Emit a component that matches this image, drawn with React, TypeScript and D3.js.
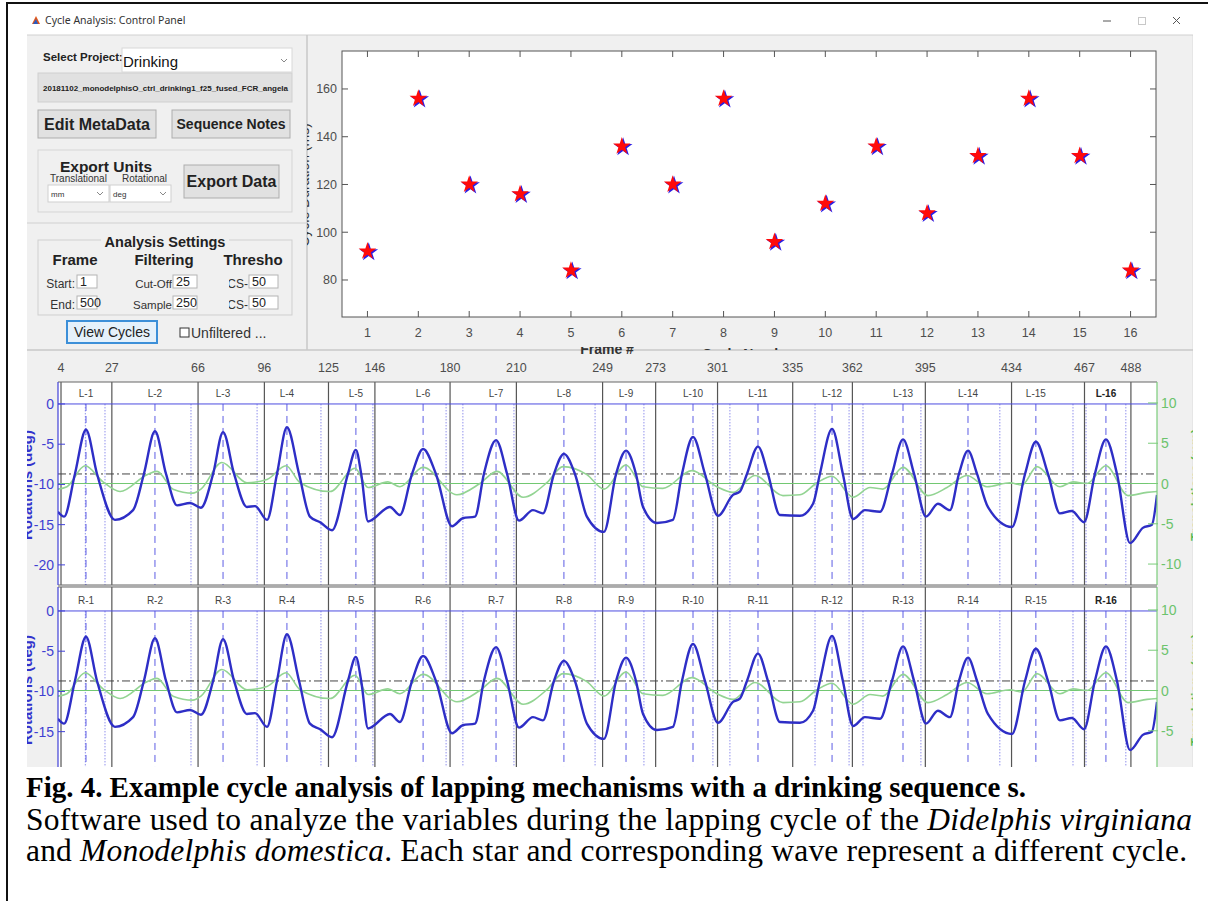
import React from "react";
import * as d3 from "d3";

const SANS = '"Liberation Sans", Arial, Helvetica, sans-serif';
const UI = '"Noto Sans", "Liberation Sans", Arial, sans-serif';
const SERIF = '"Liberation Serif", "Times New Roman", serif';

// ---------- scatter (cycle duration per cycle) ----------
const CYCLE_NUMBERS = [1, 2, 3, 4, 5, 6, 7, 8, 9, 10, 11, 12, 13, 14, 15, 16];
const CYCLE_VALUES = [92, 156, 120, 116, 84, 136, 120, 156, 96, 112, 136, 108, 132, 156, 132, 84];
const SCATTER_Y_TICKS = [80, 100, 120, 140, 160];

// ---------- cycle traces ----------
const FRAME_TICKS = [4, 27, 66, 96, 125, 146, 180, 210, 249, 273, 301, 335, 362, 395, 434, 467, 488];
const PEAK_FRAMES = [15.3, 46.5, 77.3, 106.2, 137.4, 167.8, 200.8, 231.5, 259.6, 289.9, 319.3, 352.8, 384.9, 414.3, 445.0, 476.7];
const DOTTED_FRAMES = [15.0, 23.9, 62.8, 92.7, 121.6, 145.1, 178.2, 185.8, 208.9, 245.6, 267.7, 298.9, 306.6, 345.1, 360.5, 366.8, 393.0, 428.7, 461.8, 467.7, 485.7];
const LEFT_TICKS = [0, -5, -10, -15, -20];
const RIGHT_TICKS = [10, 5, 0, -5, -10];
const THRESHOLD_LEFT = -8.7;
const BASELINE_RIGHT = 0;

const BLUE_FRAMES = [
  2.6, 5.4, 10.3, 15.3, 20.3, 28.4, 36.6, 41.5, 46.5, 51.5, 56.5, 62.4, 67.3, 72.8, 77.3, 82.3,
  88.1, 91.8, 97.2, 101.7, 106.2, 111.7, 116.6, 121.2, 126.6, 133.8, 137.4, 139.8, 142.9, 152.8,
  157.3, 162.8, 167.8, 173.6, 180.9, 185.8, 191.3, 195.3, 200.8, 205.8, 211.2, 217.5, 222.0,
  227.0, 231.5, 236.5, 241.9, 249.6, 255.1, 259.6, 264.1, 267.3, 273.6, 280.8, 284.9, 289.9,
  295.3, 301.2, 308.0, 311.1, 314.3, 319.3, 323.8, 329.2, 338.3, 344.2, 347.3, 352.8, 357.7,
  362.3, 367.7, 374.5, 379.9, 384.9, 389.9, 395.3, 400.7, 406.1, 410.2, 414.3, 418.4, 423.3,
  434.2, 440.1, 445.0, 450.5, 455.9, 461.3, 466.8, 471.7, 476.7, 481.7, 487.6, 493.4, 497.5, 499.8,
];
const BLUE_VALUES = [
  -13.4, -14.0, -8.7, -3.2, -8.7, -14.4, -13.2, -8.7, -3.4, -8.7, -12.6, -12.3, -12.9, -8.7, -3.5, -8.7,
  -12.8, -12.7, -14.4, -8.7, -2.9, -8.7, -14.0, -14.7, -15.7, -8.7, -5.7, -8.7, -14.6, -12.8,
  -13.8, -8.7, -5.6, -8.7, -15.2, -14.2, -14.0, -8.7, -4.5, -8.7, -14.5, -13.2, -13.6,
  -8.7, -6.2, -8.7, -14.0, -15.9, -8.7, -5.8, -8.7, -12.8, -14.8, -14.4, -8.7, -4.1,
  -8.7, -13.9, -11.3, -10.9, -8.7, -5.3, -8.7, -13.8, -13.9, -12.4, -8.7, -3.1, -8.7,
  -14.3, -13.2, -13.4, -8.7, -4.4, -8.7, -14.0, -12.4, -13.2, -8.7, -5.8, -8.7, -12.8,
  -15.3, -8.7, -4.7, -8.7, -13.6, -13.3, -14.7, -8.7, -4.4, -8.7, -17.3, -15.4, -15.0, -11.3,
];

const GREEN_FRAMES = [
  2.6, 6.7, 14.9, 23.0, 30.7, 42.9, 47.4, 54.7, 63.7, 67.3, 76.8, 88.1, 97.2, 105.8, 112.1, 125.7,
  137.0, 142.9, 151.9, 157.3, 167.8, 183.1, 193.5, 201.2, 213.0, 223.8, 231.1, 241.9, 249.6,
  259.6, 267.3, 276.3, 289.4, 300.7, 308.0, 317.9, 330.6, 338.3, 346.0, 352.8, 362.3, 370.0,
  375.8, 384.9, 396.2, 404.8, 413.8, 422.9, 433.3, 438.7, 445.5, 455.9, 461.8, 468.1, 476.7,
  486.7, 495.3, 499.8,
];
const GREEN_VALUES = [
  -0.7, -0.4, 2.2, 0.2, -1.0, 1.1, 1.5, -0.7, -1.2, -0.7, 2.6, 0.1, 0.5, 2.2, 0.1, -1.0,
  1.9, -0.5, 0.2, -0.4, 2.0, -1.4, 0.0, 1.5, -1.7, 0.1, 2.1, 1.1, -0.7,
  2.3, -0.4, -0.6, 1.6, -0.4, -1.1, 1.0, -1.5, -1.4, 0.1, 0.9, -1.7, -0.5,
  -0.7, 2.0, -1.5, -0.5, 1.0, -0.4, 0.1, -0.2, 2.1, -0.4, 0.2, 0.0, 2.2,
  -1.5, -1.1, -1.0,
];

const BG = "#f0f0f0";

function CyclePanel({ dy, boxTop, boxBottom, prefix, id, showBottomLine }: any) {
  const fx = d3.scaleLinear().domain([2.64, 499.8]).range([58, 1157]);
  const yL = d3.scaleLinear().domain([-22.5, 2.73]).range([585 + dy, 382 + dy]);
  const yR = d3.scaleLinear().domain([-12.6, 12.6]).range([585 + dy, 382 + dy]);
  const blue = d3
    .line<number>()
    .x((_, i) => fx(BLUE_FRAMES[i]))
    .y((v) => yL(v))
    .curve(d3.curveMonotoneX)(BLUE_VALUES) as string;
  const green = d3
    .line<number>()
    .x((_, i) => fx(GREEN_FRAMES[i]))
    .y((v) => yR(v))
    .curve(d3.curveMonotoneX)(GREEN_VALUES) as string;
  const zeroY = yL(0);
  const [x0, x1] = fx.range();
  return (
    <g>
      <defs>
        <clipPath id={id}>
          <rect x={x0} y={boxTop} width={x1 - x0} height={boxBottom - boxTop} />
        </clipPath>
      </defs>
      <rect x={x0} y={boxTop} width={x1 - x0} height={boxBottom - boxTop} fill="#ffffff" />
      <g clipPath={`url(#${id})`}>
        {DOTTED_FRAMES.map((f, i) => (
          <line key={"d" + i} x1={fx(f)} x2={fx(f)} y1={zeroY} y2={boxBottom} stroke="#9090ec" strokeWidth={1} strokeDasharray="1.5,1.5" />
        ))}
        {PEAK_FRAMES.map((f, i) => (
          <line key={"p" + i} x1={fx(f)} x2={fx(f)} y1={zeroY} y2={boxBottom} stroke="#5c5ce4" strokeWidth={1} strokeDasharray="7,5" />
        ))}
        {FRAME_TICKS.map((f, i) => (
          <line key={"b" + i} x1={fx(f)} x2={fx(f)} y1={boxTop} y2={boxBottom} stroke="#555" strokeWidth={1.2} />
        ))}
        <line x1={x0} x2={x1} y1={zeroY} y2={zeroY} stroke="#4b4be0" strokeWidth={1} />
        <line x1={x0} x2={x1} y1={yR(BASELINE_RIGHT)} y2={yR(BASELINE_RIGHT)} stroke="#72c872" strokeWidth={1.2} />
        <line x1={x0} x2={x1} y1={yL(THRESHOLD_LEFT)} y2={yL(THRESHOLD_LEFT)} stroke="#444" strokeWidth={1} strokeDasharray="8,3,2,3" />
        <path d={green} fill="none" stroke="#93d493" strokeWidth={1.6} />
        <path d={blue} fill="none" stroke="#2e2ec6" strokeWidth={2.4} />
      </g>
      {PEAK_FRAMES.map((f, i) => (
        <text
          key={"l" + i}
          x={fx(f)}
          y={zeroY - 7}
          textAnchor="middle"
          fontFamily={SANS}
          fontSize={10}
          fontWeight={i === PEAK_FRAMES.length - 1 ? "bold" : "normal"}
          fill={i === PEAK_FRAMES.length - 1 ? "#222" : "#444"}
        >
          {`${prefix}-${i + 1}`}
        </text>
      ))}
      <line x1={x0} x2={x1} y1={boxTop} y2={boxTop} stroke="#666" strokeWidth={1} />
      {showBottomLine && <line x1={x0} x2={x1} y1={boxBottom} y2={boxBottom} stroke="#666" strokeWidth={1} />}
      <line x1={x0} x2={x0} y1={boxTop} y2={boxBottom} stroke="#4040d8" strokeWidth={1.2} />
      <line x1={x1} x2={x1} y1={boxTop} y2={boxBottom} stroke="#7acc7a" strokeWidth={1.2} />
      {LEFT_TICKS.filter((t) => yL(t) < boxBottom - 4).map((t) => (
        <g key={"lt" + t}>
          <line x1={x0} x2={x0 + 7} y1={yL(t)} y2={yL(t)} stroke="#4040d8" strokeWidth={1} />
          <text x={54} y={yL(t) + 5} textAnchor="end" fontFamily={SANS} fontSize={14} fill="#3f3fd2">
            {t}
          </text>
        </g>
      ))}
      {RIGHT_TICKS.filter((t) => yR(t) < boxBottom - 4).map((t) => (
        <g key={"rt" + t}>
          <line x1={x1 - 9} x2={x1 + 1} y1={yR(t)} y2={yR(t)} stroke="#7acc7a" strokeWidth={1} />
          <text x={x1 + 4} y={yR(t) + 5} textAnchor="start" fontFamily={SANS} fontSize={14} fill="#6cc36c">
            {t}
          </text>
        </g>
      ))}
    </g>
  );
}

export default function App() {
  const sx = d3.scaleLinear().domain([0.5, 16.5]).range([342, 1156]);
  const sy = d3.scaleLinear().domain([64.5, 175.9]).range([317, 51]);
  const fx = d3.scaleLinear().domain([2.64, 499.8]).range([58, 1157]);
  const starBig = d3.symbol(d3.symbolStar, 110)() as string;
  const starSmall = d3.symbol(d3.symbolStar, 96)() as string;

  const btn = (x: number, y: number, w: number, h: number, label: string, fs: number) => (
    <g>
      <rect x={x} y={y} width={w} height={h} fill="#e1e1e1" stroke="#adadad" strokeWidth={1} />
      <text x={x + w / 2} y={y + h / 2 + fs * 0.36} textAnchor="middle" fontFamily={SANS} fontWeight="bold" fontSize={fs} fill="#222">
        {label}
      </text>
    </g>
  );
  const field = (x: number, y: number, w: number, h: number, label: string) => (
    <g>
      <rect x={x} y={y} width={w} height={h} fill="#fff" stroke="#b4b4b4" strokeWidth={1} />
      <text x={x + 3} y={y + h - 2} fontFamily={SANS} fontSize={12.5} fill="#222">
        {label}
      </text>
    </g>
  );

  return (
    <svg width={1208} height={901} style={{ position: "absolute", left: 0, top: 0, background: "#fff" }}>
      <defs>
        <clipPath id="winClip">
          <rect x={27} y={13} width={1166} height={754} />
        </clipPath>
        <clipPath id="leftLab">
          <rect x={27} y={350} width={40} height={417} />
        </clipPath>
        <clipPath id="rightLab">
          <rect x={1160} y={350} width={33} height={417} />
        </clipPath>
        <clipPath id="scatLab">
          <rect x={307} y={35} width={30} height={315} />
        </clipPath>
        <clipPath id="xlabTop">
          <rect x={500} y={340} width={400} height={10} />
        </clipPath>
        <clipPath id="xlabBot">
          <rect x={500} y={347} width={200} height={10} />
        </clipPath>
        <clipPath id="fileClip">
          <rect x={38} y={73} width={254} height={29} />
        </clipPath>
        <clipPath id="jcsClip">
          <rect x={229} y={270} width={20} height={45} />
        </clipPath>
        <clipPath id="startClip">
          <rect x={43} y={270} width={33} height={45} />
        </clipPath>
        <clipPath id="expClip">
          <rect x={40} y={150} width={140} height={24} />
        </clipPath>
      </defs>
      <rect x={0} y={0} width={1208} height={901} fill="#fff" />

      <g clipPath="url(#winClip)">
        {/* title bar */}
        <rect x={27} y={13} width={1166} height={22} fill="#ffffff" />
        <polygon points="32,24 36,16 40,24" fill="#e0561a" />
        <polygon points="33,24 36,19 38,24" fill="#2a5cc0" />
        <text x={45} y={24} fontFamily={UI} fontSize={10.5} fill="#333">
          Cycle Analysis: Control Panel
        </text>
        <line x1={1103} x2={1111} y1={21} y2={21} stroke="#555" strokeWidth={1} />
        <rect x={1138.5} y={17.5} width={7} height={7} fill="none" stroke="#c8c8c8" strokeWidth={1} />
        <line x1={1173} x2={1180} y1={17} y2={24} stroke="#555" strokeWidth={1} />
        <line x1={1180} x2={1173} y1={17} y2={24} stroke="#555" strokeWidth={1} />

        {/* panels */}
        <rect x={27} y={35} width={1166} height={732} fill={BG} />
        <line x1={27} x2={1193} y1={35} y2={35} stroke="#d0d0d0" />
        <line x1={307} x2={307} y1={35} y2={350} stroke="#c8c8c8" strokeWidth={1.5} />
        <line x1={27} x2={1193} y1={350} y2={350} stroke="#c8c8c8" strokeWidth={1.5} />
        <line x1={1193.5} x2={1193.5} y1={35} y2={767} stroke="#c8c8c8" strokeWidth={1.5} />
        <line x1={27} x2={307} y1={223} y2={223} stroke="#d0d0d0" />

        {/* left control panel */}
        <text x={43} y={61} fontFamily={SANS} fontWeight="bold" fontSize={11.5} fill="#222">
          Select Project:
        </text>
        <rect x={122} y={48} width={170} height={24} fill="#fff" stroke="#d8d8d8" />
        <text x={123} y={67} fontFamily={SANS} fontSize={15} fill="#111">
          Drinking
        </text>
        <path d="M281,59 l3,3 l3,-3" fill="none" stroke="#888" strokeWidth={1} />
        <rect x={38} y={73} width={254} height={29} fill="#e1e1e1" stroke="#cfcfcf" />
        <g clipPath="url(#fileClip)">
          <text x={43} y={91} fontFamily={SANS} fontWeight="bold" fontSize={7.6} fill="#222" textLength={245} lengthAdjust="spacingAndGlyphs">
            20181102_monodelphisO_ctrl_drinking1_f25_fused_FCR_angela
          </text>
        </g>
        {btn(38, 110, 118, 28, "Edit MetaData", 16)}
        {btn(172, 110, 118, 28, "Sequence Notes", 14)}

        <rect x={38} y={150} width={254} height={62} fill="none" stroke="#d5d5d5" />
        <g clipPath="url(#expClip)">
          <text x={106} y={172} textAnchor="middle" fontFamily={SANS} fontWeight="bold" fontSize={15.5} fill="#222">
            Export Units
          </text>
        </g>
        <text x={50} y={182} fontFamily={SANS} fontSize={10} fill="#333">
          Translational
        </text>
        <text x={122} y={182} fontFamily={SANS} fontSize={10} fill="#333">
          Rotational
        </text>
        <rect x={48} y={185} width={61} height={17} fill="#fff" stroke="#cfcfcf" />
        <text x={51} y={197} fontFamily={SANS} fontSize={8} fill="#333">
          mm
        </text>
        <path d="M97,192 l3,3 l3,-3" fill="none" stroke="#888" />
        <rect x={110} y={185} width={61} height={17} fill="#fff" stroke="#cfcfcf" />
        <text x={113} y={197} fontFamily={SANS} fontSize={8} fill="#333">
          deg
        </text>
        <path d="M160,192 l3,3 l3,-3" fill="none" stroke="#888" />
        {btn(184, 165, 95, 33, "Export Data", 16)}

        <rect x={38} y={240} width={254} height={75} fill="none" stroke="#cfcfcf" />
        <rect x={101} y={234} width={128} height={14} fill={BG} />
        <text x={165} y={247} textAnchor="middle" fontFamily={SANS} fontWeight="bold" fontSize={14.5} fill="#222">
          Analysis Settings
        </text>
        <text x={75} y={265} textAnchor="middle" fontFamily={SANS} fontWeight="bold" fontSize={15} fill="#222">
          Frame
        </text>
        <text x={164} y={265} textAnchor="middle" fontFamily={SANS} fontWeight="bold" fontSize={15} fill="#222">
          Filtering
        </text>
        <text x={253} y={265} textAnchor="middle" fontFamily={SANS} fontWeight="bold" fontSize={15} fill="#222">
          Thresho
        </text>
        <g clipPath="url(#startClip)">
          <text x={75} y={288} textAnchor="end" fontFamily={SANS} fontSize={12} fill="#333">Start:</text>
          <text x={75} y={309} textAnchor="end" fontFamily={SANS} fontSize={12} fill="#333">End:</text>
        </g>
        <text x={172} y={288} textAnchor="end" fontFamily={SANS} fontSize={11.5} fill="#333">Cut-Off</text>
        <text x={172} y={309} textAnchor="end" fontFamily={SANS} fontSize={11.5} fill="#333">Sample</text>
        <g clipPath="url(#jcsClip)">
          <text x={248} y={288} textAnchor="end" fontFamily={SANS} fontSize={12} fill="#333">JCS-</text>
          <text x={248} y={309} textAnchor="end" fontFamily={SANS} fontSize={12} fill="#333">JCS-</text>
        </g>
        {field(77, 275, 20, 13, "1")}
        {field(173, 275, 24, 13, "25")}
        {field(249, 275, 29, 13, "50")}
        {field(77, 296, 20, 13, "500")}
        {field(173, 296, 24, 13, "250")}
        {field(249, 296, 29, 13, "50")}
        <rect x={67} y={321} width={90} height={22} fill="#e5f1fb" stroke="#3c8fd8" strokeWidth={2} />
        <text x={112} y={337} textAnchor="middle" fontFamily={SANS} fontSize={14} fill="#222">
          View Cycles
        </text>
        <rect x={180} y={328} width={9} height={9} fill="#fff" stroke="#333" strokeWidth={1} />
        <text x={191} y={338} fontFamily={SANS} fontSize={14} fill="#333">
          Unfiltered ...
        </text>

        {/* scatter plot */}
        <g clipPath="url(#scatLab)">
          <text transform="translate(309,185) rotate(-90)" textAnchor="middle" fontFamily={SANS} fontSize={14} fill="#333">
            Cycle Duration (ms)
          </text>
        </g>
        <rect x={342} y={51} width={814} height={266} fill="#fff" stroke="#555" strokeWidth={1} />
        {CYCLE_NUMBERS.map((c) => (
          <g key={"xt" + c}>
            <line x1={sx(c)} x2={sx(c)} y1={317} y2={311} stroke="#555" />
            <line x1={sx(c)} x2={sx(c)} y1={51} y2={57} stroke="#555" />
            <text x={sx(c)} y={337} textAnchor="middle" fontFamily={SANS} fontSize={12.5} fill="#4d4d4d">
              {c}
            </text>
          </g>
        ))}
        {SCATTER_Y_TICKS.map((t) => (
          <g key={"yt" + t}>
            <line x1={342} x2={348} y1={sy(t)} y2={sy(t)} stroke="#555" />
            <line x1={1156} x2={1150} y1={sy(t)} y2={sy(t)} stroke="#555" />
            <text x={337} y={sy(t) + 4.5} textAnchor="end" fontFamily={SANS} fontSize={12.5} fill="#4d4d4d">
              {t}
            </text>
          </g>
        ))}
        {CYCLE_NUMBERS.map((c, i) => (
          <g key={"st" + c}>
            <path d={starBig} transform={`translate(${sx(c) + 1.3},${sy(CYCLE_VALUES[i]) + 0.9})`} fill="#2a1ee6" />
            <path d={starSmall} transform={`translate(${sx(c)},${sy(CYCLE_VALUES[i])})`} fill="#ff0a0a" />
          </g>
        ))}
        <g clipPath="url(#xlabTop)">
          <text x={749} y={359} textAnchor="middle" fontFamily={SANS} fontWeight="bold" fontSize={14} fill="#333">
            Cycle Number
          </text>
        </g>
        <g clipPath="url(#xlabBot)">
          <text x={607} y={354} textAnchor="middle" fontFamily={SANS} fontWeight="bold" fontSize={14} fill="#333">
            Frame #
          </text>
        </g>

        {/* cycle panels */}
        {FRAME_TICKS.map((f) => (
          <text key={"ft" + f} x={fx(f)} y={372} textAnchor="middle" fontFamily={SANS} fontSize={12.5} fill="#4d4d4d">
            {f}
          </text>
        ))}
        <CyclePanel dy={0} boxTop={382} boxBottom={585} prefix="L" id="clipL" showBottomLine={true} />
        <CyclePanel dy={207} boxTop={587} boxBottom={767} prefix="R" id="clipR" showBottomLine={false} />
        <g clipPath="url(#leftLab)">
          <text transform="translate(32,485) rotate(-90)" textAnchor="middle" fontFamily={SANS} fontWeight="bold" fontSize={15} fill="#3333cc">
            Rotations (deg)
          </text>
          <text transform="translate(32,690) rotate(-90)" textAnchor="middle" fontFamily={SANS} fontWeight="bold" fontSize={15} fill="#3333cc">
            Rotations (deg)
          </text>
        </g>
        <g clipPath="url(#rightLab)">
          <text transform="translate(1200,485) rotate(-90)" textAnchor="middle" fontFamily={SANS} fontWeight="bold" fontSize={13} fill="#55bb55">
            Translations (mm)
          </text>
          <text transform="translate(1200,690) rotate(-90)" textAnchor="middle" fontFamily={SANS} fontWeight="bold" fontSize={13} fill="#55bb55">
            Translations (mm)
          </text>
        </g>
      </g>

      {/* figure frame */}
      <line x1={7} x2={7} y1={2} y2={901} stroke="#111" strokeWidth={2} />
      <line x1={6} x2={1208} y1={3} y2={3} stroke="#111" strokeWidth={2} />

      {/* caption */}
      <text x={26} y={797} fontFamily={SERIF} fontWeight="bold" fontSize={29} fill="#000" textLength={1000}>
        Fig. 4. Example cycle analysis of lapping mechanisms with a drinking sequence s.
      </text>
      <text x={26} y={830} fontFamily={SERIF} fontSize={31.5} fill="#000" textLength={1166}>
        Software used to analyze the variables during the lapping cycle of the{" "}
        <tspan fontStyle="italic">Didelphis virginiana</tspan>
      </text>
      <text x={26} y={861} fontFamily={SERIF} fontSize={31.5} fill="#000" textLength={1161}>
        and <tspan fontStyle="italic">Monodelphis domestica</tspan>. Each star and corresponding wave represent a different cycle.
      </text>
    </svg>
  );
}
